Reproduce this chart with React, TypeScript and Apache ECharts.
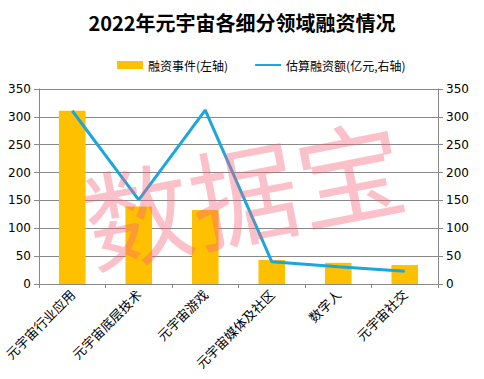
import React, { useEffect, useRef } from "react";
import * as echarts from "echarts";

const categories = ["元宇宙行业应用", "元宇宙底层技术", "元宇宙游戏", "元宇宙媒体及社区", "数字人", "元宇宙社交"];
const eventCounts = [311, 139, 133, 43, 38, 34];
const fundingAmounts = [311, 151, 312, 40, 31, 23];
const yTicks = { min: 0, max: 350, interval: 50 };

export default function App() {
  const ref = useRef<HTMLDivElement>(null);
  useEffect(() => {
    if (!ref.current) return;
    const chart = echarts.init(ref.current, null, { renderer: "svg" });
    const axisLabel = { color: "#000", fontSize: 12, fontFamily: "DejaVu Sans" };
    chart.setOption({
      animation: false,
      backgroundColor: "#fff",
      title: {
        text: "2022年元宇宙各细分领域融资情况",
        left: "center",
        top: 7,
        textStyle: { fontSize: 20, fontWeight: "bold", color: "#000", fontFamily: "Noto Sans CJK SC" },
      },
      legend: {
        top: 54,
        left: 112,
        itemGap: 26,
        itemWidth: 26,
        itemHeight: 8,
        textStyle: { fontSize: 12, color: "#000", fontFamily: "Noto Sans CJK SC" },
        data: [
          { name: "融资事件(左轴)", icon: "rect" },
          { name: "估算融资额(亿元,右轴)", itemStyle: { opacity: 0 } },
        ],
      },
      grid: { left: 39, right: 46, top: 89, bottom: 95 },
      xAxis: {
        type: "category",
        data: categories,
        axisLine: { lineStyle: { color: "#888" } },
        axisTick: { show: true, lineStyle: { color: "#888" }, length: 4 },
        axisLabel: { ...axisLabel, fontSize: 13, rotate: 45, interval: 0, fontFamily: "Noto Sans CJK SC", margin: 8 },
      },
      yAxis: [
        {
          type: "value",
          ...yTicks,
          axisLine: { show: true, lineStyle: { color: "#888" } },
          axisTick: { show: true, lineStyle: { color: "#888" } },
          splitLine: { lineStyle: { color: "#888" } },
          axisLabel,
        },
        {
          type: "value",
          ...yTicks,
          axisLine: { show: true, lineStyle: { color: "#888" } },
          axisTick: { show: true, lineStyle: { color: "#888" } },
          splitLine: { show: false },
          axisLabel,
        },
      ],
      graphic: [
        {
          type: "text",
          x: 243,
          y: 190,
          rotation: (11 * Math.PI) / 180,
          z: 100,
          style: {
            text: "数据宝",
            fontSize: 108,
            fontFamily: "Noto Sans CJK SC",
            fill: "rgba(245,100,125,0.4)",
            align: "center",
            verticalAlign: "middle",
          },
        },
      ],
      series: [
        {
          name: "融资事件(左轴)",
          type: "bar",
          data: eventCounts,
          barWidth: "40%",
          itemStyle: { color: "#FFC000" },
          z: 3,
        },
        {
          name: "估算融资额(亿元,右轴)",
          type: "line",
          yAxisIndex: 1,
          data: fundingAmounts,
          symbol: "none",
          lineStyle: { color: "#1CA6DB", width: 3 },
          itemStyle: { color: "#1CA6DB" },
          z: 4,
        },
      ],
    });
    return () => chart.dispose();
  }, []);
  return <div ref={ref} style={{ width: 484, height: 379, position: "absolute", left: 0, top: 0 }} />;
}
